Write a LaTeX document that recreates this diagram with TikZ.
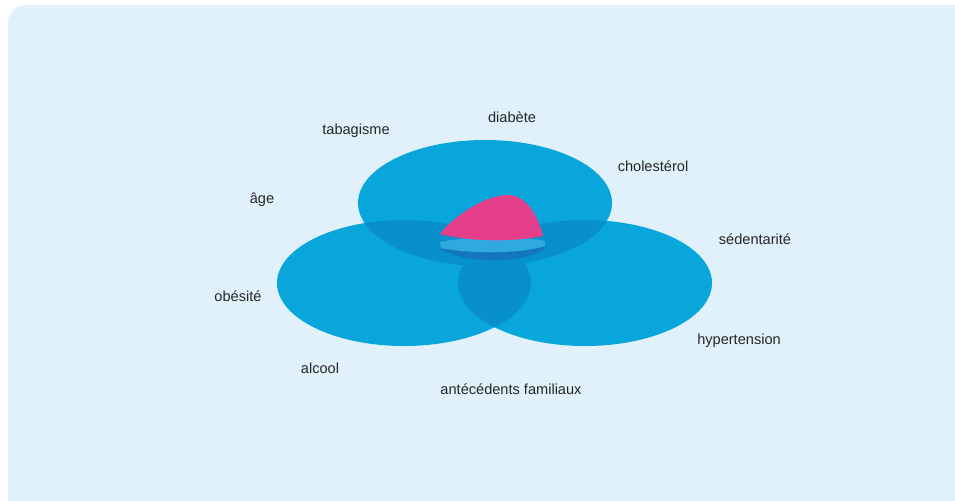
\documentclass[tikz,border=0pt]{standalone}
\usepackage{fontspec}
\setmainfont{Liberation Sans}
\definecolor{panel}{HTML}{E0F1FB}
\definecolor{oval}{HTML}{08A6DA}
\definecolor{ovalover}{HTML}{0890CB}
\definecolor{risk}{HTML}{E53F8B}
\definecolor{band}{HTML}{2FAAE1}
\definecolor{riskshadow}{HTML}{1477BE}
\begin{document}
\begin{tikzpicture}[x=0.02cm,y=-0.02cm,
	lbl/.style={font=\fontsize{8.3}{10}\selectfont,text=black!85,inner sep=0pt}]
		\useasboundingbox (0,0) rectangle (955,500);
		\fill[white] (0,0) rectangle (955,500);
		\fill[panel,rounded corners=10pt] (8,5) rectangle (975,520);
		\fill[oval] (485,203) ellipse (127 and 63);
		\fill[oval] (404,283) ellipse (127 and 63);
		\fill[oval] (585,283) ellipse (127 and 63);
		\begin{scope}
			\clip (485,203) ellipse (127 and 63);
			\fill[ovalover] (404,283) ellipse (127 and 63);
			\fill[ovalover] (585,283) ellipse (127 and 63);
		\end{scope}
		\begin{scope}
			\clip (404,283) ellipse (127 and 63);
			\fill[ovalover] (585,283) ellipse (127 and 63);
		\end{scope}
		\fill[riskshadow] (442,250) .. controls (470,264) and (518,264) .. (544,250) -- (544,246) -- (442,246) -- cycle;
		\fill[band] (440,242) .. controls (470,236) and (520,236) .. (545,241) -- (545,246) .. controls (520,254) and (470,254) .. (441,248) -- cycle;
		\fill[risk] (440,234) .. controls (452,218) and (484,195) .. (508,195) .. controls (524,195) and (537,212) .. (543,236) .. controls (515,242) and (470,242) .. (440,234) -- cycle;
		\node[lbl] (tabac) at (356,131) {tabagisme};
		\node[lbl] (diab) at (512,117) {diabète};
		\node[lbl] (chol) at (653,166) {cholestérol};
		\node[lbl] (age) at (262,200) {âge};
		\node[lbl] (sed) at (755,239) {sédentarité};
		\node[lbl] (obes) at (238,296) {obésité};
		\node[lbl] (hta) at (739,341) {hypertension};
		\node[lbl] (alc) at (320,368) {alcool};
		\node[lbl] (fam) at (511,389) {antécédents familiaux};
	\end{tikzpicture}
\end{document}
